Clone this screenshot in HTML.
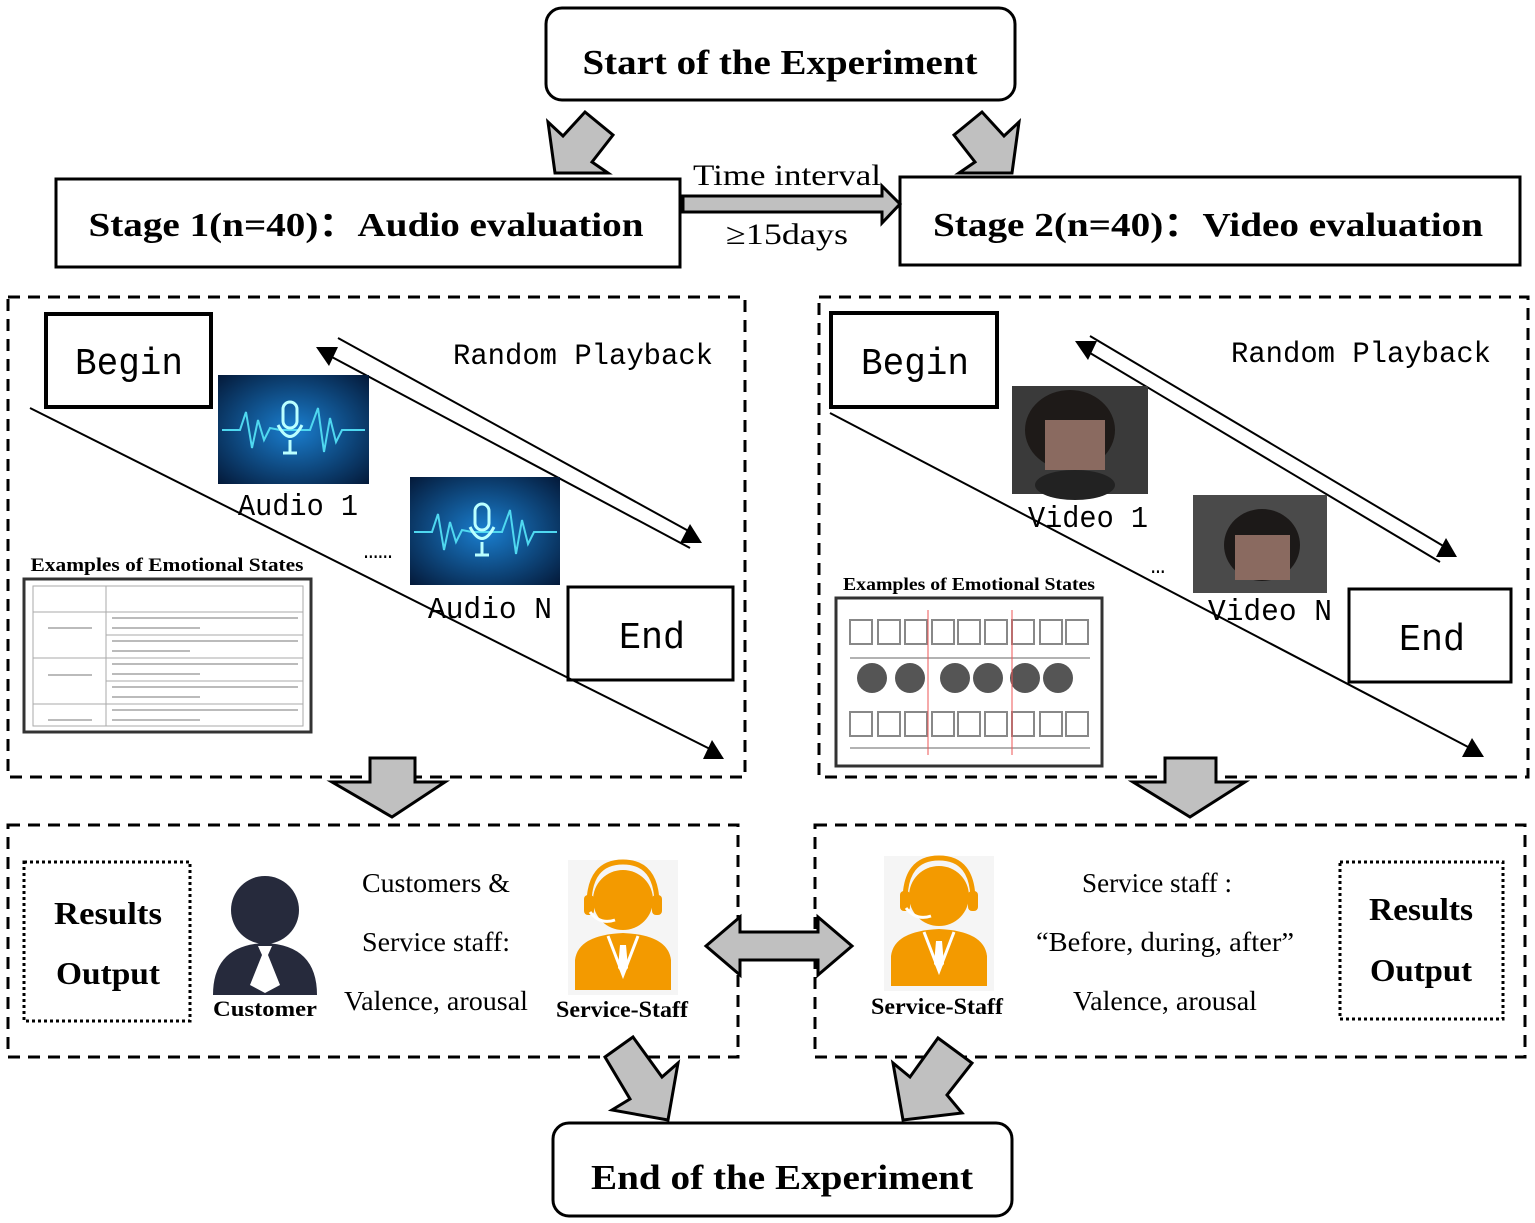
<!DOCTYPE html>
<html><head><meta charset="utf-8"><style>html,body{margin:0;padding:0;background:#fff}svg{display:block}</style></head>
<body>
<svg width="1535" height="1223" viewBox="0 0 1535 1223" xmlns="http://www.w3.org/2000/svg">
<defs>
<radialGradient id="blue" cx="50%" cy="50%" r="70%"><stop offset="0" stop-color="#1a7fd0"/><stop offset="1" stop-color="#041a3a"/></radialGradient>
</defs>
<g font-family="Liberation Serif, serif">
<!-- Start box -->
<rect x="546" y="8" width="469" height="92" rx="16" fill="#fff" stroke="#000" stroke-width="3"/>
<text x="780" y="74" font-size="35" font-weight="bold" text-anchor="middle" textLength="395" lengthAdjust="spacingAndGlyphs">Start of the Experiment</text>
<!-- top arrows -->
<polygon points="555,173 548,122 563,136 585,112 613,135 592,162 608,173" fill="#c0c0c0" stroke="#000" stroke-width="3"/>
<polygon points="1012,173 1019,122 1004,136 982,112 954,135 975,162 959,173" fill="#c0c0c0" stroke="#000" stroke-width="3"/>
<!-- stage boxes -->
<rect x="56" y="179" width="624" height="88" fill="#fff" stroke="#000" stroke-width="3"/>
<text x="366" y="236" font-size="34" font-weight="bold" text-anchor="middle" textLength="555" lengthAdjust="spacingAndGlyphs">Stage 1(n=40)：Audio evaluation</text>
<rect x="900" y="177" width="620" height="88" fill="#fff" stroke="#000" stroke-width="3"/>
<text x="1208" y="236" font-size="34" font-weight="bold" text-anchor="middle" textLength="550" lengthAdjust="spacingAndGlyphs">Stage 2(n=40)：Video evaluation</text>
<!-- time interval arrow -->
<path d="M683,196 L882,196 L882,186 L900,204 L882,223 L882,212 L683,212 Z" fill="#c0c0c0" stroke="#000" stroke-width="3"/>
<text x="787" y="185" font-size="30" text-anchor="middle" textLength="188" lengthAdjust="spacingAndGlyphs">Time interval</text>
<text x="787" y="244" font-size="30" text-anchor="middle" textLength="122" lengthAdjust="spacingAndGlyphs">≥15days</text>
<!-- dashed panels -->
<g fill="none" stroke="#000" stroke-width="3" stroke-dasharray="12,8">
<rect x="8" y="297" width="737" height="480"/>
<rect x="819" y="297" width="709" height="480"/>
<rect x="8" y="825" width="730" height="232"/>
<rect x="815" y="825" width="710" height="232"/>
</g>
<!-- left panel -->
<g font-family="Liberation Mono, monospace">
<rect x="46" y="314" width="165" height="93" fill="#fff" stroke="#000" stroke-width="4"/>
<text x="129" y="374" font-size="38" text-anchor="middle" textLength="108" lengthAdjust="spacingAndGlyphs">Begin</text>
<text x="583" y="364" font-size="30" text-anchor="middle" textLength="260" lengthAdjust="spacingAndGlyphs">Random Playback</text>
<rect x="568" y="587" width="165" height="93" fill="#fff" stroke="#000" stroke-width="3"/>
<text x="652" y="648" font-size="38" text-anchor="middle" textLength="66" lengthAdjust="spacingAndGlyphs">End</text>
</g>
<g stroke="#000" stroke-width="2">
<line x1="30" y1="408" x2="712" y2="750"/>
<line x1="338" y1="338" x2="694" y2="534"/>
<line x1="330" y1="356" x2="690" y2="548"/>
<line x1="830" y1="413" x2="1470" y2="748"/>
<line x1="1090" y1="336" x2="1445" y2="547"/>
<line x1="1085" y1="350" x2="1440" y2="562"/>
</g>
<g fill="#000">
<polygon points="712,740 703,759 724,759"/>
<polygon points="690,524 680,543 702,543"/>
<polygon points="316,347 338,347 329,366"/>
<polygon points="1472,738 1462,757 1484,757"/>
<polygon points="1446,538 1436,557 1457,557"/>
<polygon points="1075,341 1097,341 1088,360"/>
</g>
<!-- audio images -->
<g>
<rect x="218" y="375" width="151" height="109" fill="url(#blue)"/>
<polyline points="222,430 240,430 246,412 252,448 258,420 264,440 270,428 280,430 300,430 310,430 318,408 324,452 330,418 336,442 342,430 365,430" fill="none" stroke="#4fd8f0" stroke-width="2"/>
<rect x="283" y="402" width="14" height="26" rx="7" fill="none" stroke="#bff" stroke-width="3"/>
<path d="M278,425 Q290,448 302,425 M290,440 L290,452 M283,453 L297,453" fill="none" stroke="#bff" stroke-width="3"/>
<rect x="410" y="477" width="150" height="108" fill="url(#blue)"/>
<polyline points="414,532 432,532 438,514 444,550 450,522 456,542 462,530 472,532 492,532 502,532 510,510 516,554 522,520 528,544 534,532 557,532" fill="none" stroke="#4fd8f0" stroke-width="2"/>
<rect x="475" y="504" width="14" height="26" rx="7" fill="none" stroke="#bff" stroke-width="3"/>
<path d="M470,527 Q482,550 494,527 M482,542 L482,554 M475,555 L489,555" fill="none" stroke="#bff" stroke-width="3"/>
</g>
<g font-family="Liberation Mono, monospace" font-size="31">
<text x="298" y="515" text-anchor="middle" textLength="120" lengthAdjust="spacingAndGlyphs">Audio 1</text>
<text x="490" y="618" text-anchor="middle" textLength="124" lengthAdjust="spacingAndGlyphs">Audio N</text>
<text x="378" y="558" text-anchor="middle" font-size="24">……</text>
</g>
<text x="167" y="571" font-size="19" font-weight="bold" text-anchor="middle" textLength="273" lengthAdjust="spacingAndGlyphs">Examples of Emotional States</text>
<rect x="24" y="579" width="287" height="153" fill="#fff" stroke="#333" stroke-width="3"/>
<g stroke="#aaa" stroke-width="1" fill="none">
<rect x="33" y="586" width="270" height="140"/>
<line x1="106" y1="586" x2="106" y2="726"/>
<line x1="33" y1="612" x2="303" y2="612"/>
<line x1="33" y1="658" x2="303" y2="658"/>
<line x1="33" y1="704" x2="303" y2="704"/>
<line x1="106" y1="635" x2="303" y2="635"/>
<line x1="106" y1="681" x2="303" y2="681"/>
</g>
<g stroke="#bbb" stroke-width="2">
<line x1="112" y1="618" x2="298" y2="618"/><line x1="112" y1="628" x2="200" y2="628"/>
<line x1="112" y1="641" x2="298" y2="641"/><line x1="112" y1="651" x2="190" y2="651"/>
<line x1="112" y1="664" x2="298" y2="664"/><line x1="112" y1="674" x2="200" y2="674"/>
<line x1="112" y1="687" x2="298" y2="687"/><line x1="112" y1="697" x2="200" y2="697"/>
<line x1="112" y1="710" x2="298" y2="710"/><line x1="112" y1="720" x2="200" y2="720"/>
<line x1="48" y1="628" x2="92" y2="628"/><line x1="48" y1="675" x2="92" y2="675"/><line x1="48" y1="720" x2="92" y2="720"/>
</g>
<!-- right panel -->
<g font-family="Liberation Mono, monospace">
<rect x="831" y="313" width="166" height="94" fill="#fff" stroke="#000" stroke-width="4"/>
<text x="915" y="374" font-size="38" text-anchor="middle" textLength="108" lengthAdjust="spacingAndGlyphs">Begin</text>
<text x="1361" y="362" font-size="30" text-anchor="middle" textLength="260" lengthAdjust="spacingAndGlyphs">Random Playback</text>
<rect x="1349" y="589" width="162" height="93" fill="#fff" stroke="#000" stroke-width="3"/>
<text x="1432" y="650" font-size="38" text-anchor="middle" textLength="66" lengthAdjust="spacingAndGlyphs">End</text>
</g>
<!-- video images -->
<rect x="1012" y="386" width="136" height="108" fill="#3a3a3a"/>
<ellipse cx="1070" cy="430" rx="45" ry="40" fill="#1e1a18"/>
<rect x="1045" y="420" width="60" height="50" fill="#8a6a60"/>
<ellipse cx="1075" cy="485" rx="40" ry="15" fill="#222"/>
<rect x="1193" y="495" width="134" height="98" fill="#4a4a4a"/>
<ellipse cx="1262" cy="545" rx="38" ry="36" fill="#1c1918"/>
<rect x="1235" y="535" width="55" height="45" fill="#8a6a60"/>
<g font-family="Liberation Mono, monospace" font-size="31">
<text x="1088" y="527" text-anchor="middle" textLength="120" lengthAdjust="spacingAndGlyphs">Video 1</text>
<text x="1270" y="620" text-anchor="middle" textLength="124" lengthAdjust="spacingAndGlyphs">Video N</text>
<text x="1158" y="573" text-anchor="middle" font-size="24">…</text>
</g>
<text x="969" y="590" font-size="18" font-weight="bold" text-anchor="middle" textLength="252" lengthAdjust="spacingAndGlyphs">Examples of Emotional States</text>
<rect x="836" y="598" width="266" height="168" fill="#fff" stroke="#333" stroke-width="3"/>
<g stroke="#888" stroke-width="2" fill="none">
<rect x="850" y="620" width="22" height="24"/><rect x="878" y="620" width="22" height="24"/><rect x="905" y="620" width="22" height="24"/><rect x="932" y="620" width="22" height="24"/><rect x="958" y="620" width="22" height="24"/><rect x="985" y="620" width="22" height="24"/><rect x="1012" y="620" width="22" height="24"/><rect x="1040" y="620" width="22" height="24"/><rect x="1066" y="620" width="22" height="24"/>
<rect x="850" y="712" width="22" height="24"/><rect x="878" y="712" width="22" height="24"/><rect x="905" y="712" width="22" height="24"/><rect x="932" y="712" width="22" height="24"/><rect x="958" y="712" width="22" height="24"/><rect x="985" y="712" width="22" height="24"/><rect x="1012" y="712" width="22" height="24"/><rect x="1040" y="712" width="22" height="24"/><rect x="1066" y="712" width="22" height="24"/>
</g>
<g fill="#555"><circle cx="872" cy="678" r="15"/><circle cx="910" cy="678" r="15"/><circle cx="955" cy="678" r="15"/><circle cx="988" cy="678" r="15"/><circle cx="1025" cy="678" r="15"/><circle cx="1058" cy="678" r="15"/></g>
<line x1="850" y1="658" x2="1090" y2="658" stroke="#666" stroke-width="1"/>
<line x1="850" y1="748" x2="1090" y2="748" stroke="#666" stroke-width="1"/>
<line x1="928" y1="610" x2="928" y2="755" stroke="#e55" stroke-width="1"/>
<line x1="1012" y1="610" x2="1012" y2="755" stroke="#e55" stroke-width="1"/>
<!-- down arrows -->
<path d="M370,758 L415,758 L415,782 L445,782 L392,817 L332,782 L370,782 Z" fill="#c0c0c0" stroke="#000" stroke-width="3"/>
<path d="M1165,758 L1216,758 L1216,782 L1245,782 L1190,817 L1133,782 L1165,782 Z" fill="#c0c0c0" stroke="#000" stroke-width="3"/>
<!-- bottom left -->
<rect x="24" y="862" width="166" height="159" fill="none" stroke="#000" stroke-width="3" stroke-dasharray="3,3"/>
<text x="108" y="924" font-size="32" font-weight="bold" text-anchor="middle" textLength="108" lengthAdjust="spacingAndGlyphs">Results</text>
<text x="108" y="984" font-size="32" font-weight="bold" text-anchor="middle" textLength="104" lengthAdjust="spacingAndGlyphs">Output</text>
<!-- customer icon -->
<circle cx="265" cy="910" r="34" fill="#262a3c"/>
<path d="M213,995 Q213,945 265,943 Q317,945 317,995 Z" fill="#262a3c"/>
<path d="M258,946 L272,946 L268,955 L280,985 L265,993 L250,985 L262,955 Z" fill="#fff"/>
<text x="265" y="1016" font-size="22" font-weight="bold" text-anchor="middle" textLength="104" lengthAdjust="spacingAndGlyphs">Customer</text>
<g font-size="27" text-anchor="middle">
<text x="436" y="892" textLength="148" lengthAdjust="spacingAndGlyphs">Customers &amp;</text>
<text x="436" y="951" textLength="148" lengthAdjust="spacingAndGlyphs">Service staff:</text>
<text x="436" y="1010" textLength="184" lengthAdjust="spacingAndGlyphs">Valence, arousal</text>
</g>
<!-- staff icons -->
<g id="staff">
<rect x="568" y="860" width="110" height="135" fill="#f5f5f5"/>
<circle cx="623" cy="900" r="30" fill="#f39a00"/>
<path d="M589,905 Q589,862 623,862 Q657,862 657,905" fill="none" stroke="#f39a00" stroke-width="5"/>
<rect x="584" y="895" width="10" height="20" rx="4" fill="#f39a00"/>
<rect x="652" y="895" width="10" height="20" rx="4" fill="#f39a00"/>
<path d="M590,912 Q600,925 615,920" fill="none" stroke="#fff" stroke-width="3"/>
<path d="M575,990 L575,960 Q578,935 623,933 Q668,935 671,960 L671,990 Z" fill="#f39a00"/>
<path d="M608,936 L623,975 L638,936" fill="none" stroke="#fff" stroke-width="3"/>
<path d="M620,945 L626,945 L628,968 L623,974 L618,968Z" fill="#fff"/>
</g>
<text x="622" y="1017" font-size="23" font-weight="bold" text-anchor="middle" textLength="132" lengthAdjust="spacingAndGlyphs">Service-Staff</text>
<use href="#staff" transform="translate(316,-4)"/>
<text x="937" y="1014" font-size="23" font-weight="bold" text-anchor="middle" textLength="132" lengthAdjust="spacingAndGlyphs">Service-Staff</text>
<!-- double arrow -->
<path d="M706,946 L740,917 L740,932 L818,932 L818,917 L852,946 L818,975 L818,960 L740,960 L740,975 Z" fill="#c0c0c0" stroke="#000" stroke-width="3"/>
<!-- bottom right -->
<g font-size="27" text-anchor="middle">
<text x="1157" y="892" textLength="150" lengthAdjust="spacingAndGlyphs">Service staff :</text>
<text x="1165" y="951" textLength="258" lengthAdjust="spacingAndGlyphs">“Before, during, after”</text>
<text x="1165" y="1010" textLength="184" lengthAdjust="spacingAndGlyphs">Valence, arousal</text>
</g>
<rect x="1340" y="862" width="163" height="157" fill="none" stroke="#000" stroke-width="3" stroke-dasharray="3,3"/>
<text x="1421" y="920" font-size="32" font-weight="bold" text-anchor="middle" textLength="104" lengthAdjust="spacingAndGlyphs">Results</text>
<text x="1421" y="981" font-size="32" font-weight="bold" text-anchor="middle" textLength="102" lengthAdjust="spacingAndGlyphs">Output</text>
<!-- bottom arrows -->
<polygon points="605,1057 633,1037 662,1077 678,1063 668,1120 612,1110 630,1099" fill="#c0c0c0" stroke="#000" stroke-width="3"/>
<polygon points="938,1038 972,1063 947,1095 962,1113 903,1120 893,1063 910,1077" fill="#c0c0c0" stroke="#000" stroke-width="3"/>
<!-- end box -->
<rect x="553" y="1123" width="459" height="93" rx="16" fill="#fff" stroke="#000" stroke-width="3"/>
<text x="782" y="1189" font-size="35" font-weight="bold" text-anchor="middle" textLength="382" lengthAdjust="spacingAndGlyphs">End of the Experiment</text>
</g>
</svg>
</body></html>
